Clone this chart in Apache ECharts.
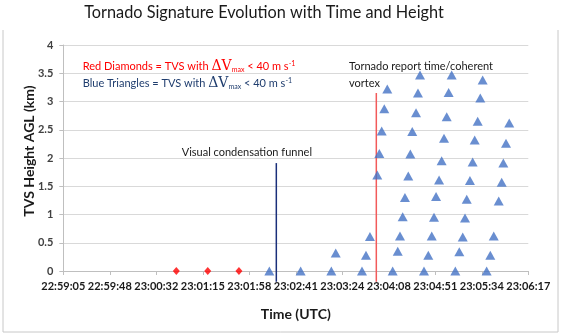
<!DOCTYPE html>
<html><head><meta charset="utf-8">
<script src="https://cdn.jsdelivr.net/npm/echarts@6/dist/echarts.min.js"></script>
<style>html,body{margin:0;padding:0;background:#fff}#c{width:561px;height:335px}</style>
</head><body><div id="c"></div>
<script>
// X values are seconds after the first axis tick (22:59:05.7 UTC); axis step 43.2 s
const tickLabels = ['22:59:05','22:59:48','23:00:32','23:01:15','23:01:58','23:02:41','23:03:24','23:04:08','23:04:51','23:05:34','23:06:17'];
const tickStep = 43.2;
const yTicks = [0, 0.5, 1, 1.5, 2, 2.5, 3, 3.5, 4];

// Red diamonds (TVS, strong) - time (s), height (km)
const redTimes   = [105.0, 134.2, 163.2];
const redHeights = [0, 0, 0];

// Blue triangles (TVS) - time (s), height (km)
const blueTimes = [
  191.4, 220.5,
  249.0, 253.1,
  277.5, 281.2, 284.9, 291.7, 293.6, 295.8, 298.2, 301.0,
  306.0, 310.7, 312.8, 315.3, 317.4, 320.5, 322.4, 324.2, 327.7, 329.5, 331.4,
  335.1, 339.1, 342.3, 344.4, 346.3, 349.1, 351.5, 353.7, 356.2, 358.0, 360.8,
  364.2, 367.9, 371.1, 373.2, 374.8, 377.8, 380.3, 382.2, 385.0, 387.4, 389.6,
  393.3, 396.7, 399.9, 404.5, 407.3, 408.8, 411.3, 414.3
];
const blueHeights = [
  0, 0,
  0, 0.32,
  0, 0.28, 0.61, 1.70, 2.08, 2.48, 2.87, 3.22,
  0, 0.35, 0.62, 0.96, 1.30, 1.68, 2.07, 2.47, 2.80, 3.15, 3.47,
  0, 0.28, 0.62, 0.95, 1.32, 1.61, 1.95, 2.35, 2.73, 3.16, 3.47,
  0, 0.34, 0.60, 0.94, 1.27, 1.60, 1.93, 2.32, 2.65, 3.06, 3.38,
  0, 0.28, 0.62, 1.24, 1.57, 1.91, 2.26, 2.62
];

// Event markers
const funnelTime = 197.9, funnelTop = 1.91;
const reportTime = 290.8, reportTop = 3.15;
const markerBottom = -0.19;

const FONT = 'Lato, "Open Sans", sans-serif';
const chart = echarts.init(document.getElementById('c'));

function legendText(label, color) {
  return {
    text: '{a|' + label + ' = TVS with }{d|ΔV}{s|max}{a| < 40 m s}{p|-1}',
    rich: {
      a: {fontSize: 11, fontFamily: FONT, fill: color, color: color},
      d: {fontSize: 14, fontFamily: '"DejaVu Serif", "Liberation Serif", serif', fill: color, color: color},
      s: {fontSize: 7, fontFamily: FONT, fill: color, color: color, padding: [6, 0, 0, 0]},
      p: {fontSize: 7, fontFamily: FONT, fill: color, color: color, padding: [0, 0, 6, 0]}
    }
  };
}

chart.setOption({
  animation: false,
  backgroundColor: '#fff',
  grid: {left: 63.3, right: 32.7, top: 45, bottom: 64},
  xAxis: {
    type: 'value', min: 0, max: tickStep * (tickLabels.length - 1), interval: tickStep,
    axisLine: {show: true, lineStyle: {color: '#bfbfbf'}},
    axisTick: {show: true, length: 4, lineStyle: {color: '#bfbfbf'}},
    splitLine: {show: false},
    axisLabel: {
      margin: 10, fontFamily: FONT, fontSize: 11, fontWeight: 'bold', color: '#1a1a1a',
      showMinLabel: true, showMaxLabel: true,
      formatter: v => tickLabels[Math.round(v / tickStep)]
    },
    name: 'Time (UTC)', nameLocation: 'middle', nameGap: 36, nameMoveOverlap: false,
    nameTextStyle: {fontFamily: FONT, fontSize: 14, fontWeight: 'bold', color: '#1a1a1a'}
  },
  yAxis: {
    type: 'value', min: yTicks[0], max: yTicks[yTicks.length - 1], interval: 0.5,
    axisLine: {show: true, lineStyle: {color: '#bfbfbf'}},
    axisTick: {show: true, length: 4, lineStyle: {color: '#bfbfbf'}},
    splitLine: {show: true, lineStyle: {color: '#d9d9d9'}},
    axisLabel: {margin: 10, fontFamily: FONT, fontSize: 11, fontWeight: 'bold', color: '#404040'},
    name: 'TVS Height AGL (km)', nameLocation: 'middle', nameGap: 27, nameRotate: 90, nameMoveOverlap: false,
    nameTextStyle: {fontFamily: FONT, fontSize: 14, fontWeight: 'bold', color: '#1a1a1a', padding: [0, 0, 0, 14]}
  },
  graphic: [
    {type: 'text', x: 264, y: 13,
     style: {text: 'Tornado Signature Evolution with Time and Height', fontFamily: FONT, fontSize: 16.3,
             fill: '#1a1a1a', align: 'center', verticalAlign: 'middle'}},
    {type: 'polyline', shape: {points: [[3, 30], [3, 332], [558, 332], [558, 30]]},
     style: {stroke: '#c8c8c8', fill: null, lineWidth: 1}, silent: true},
    {type: 'text', x: 82.7, y: 66.7,
     style: Object.assign(legendText('Red Diamonds', '#ff0000'), {verticalAlign: 'middle', fill: '#ff0000'})},
    {type: 'text', x: 82.7, y: 83.3,
     style: Object.assign(legendText('Blue Triangles', '#1f3d6e'), {verticalAlign: 'middle', fill: '#1f3d6e'})},
    {type: 'text', x: 349, y: 66.7, style: {text: 'Tornado report time/coherent', fontFamily: FONT, fontSize: 11, fill: '#1a1a1a', verticalAlign: 'middle'}},
    {type: 'text', x: 349, y: 83, style: {text: 'vortex', fontFamily: FONT, fontSize: 11, fill: '#1a1a1a', verticalAlign: 'middle'}},
    {type: 'text', x: 181.7, y: 152.7, style: {text: 'Visual condensation funnel', fontFamily: FONT, fontSize: 11, fill: '#1a1a1a', verticalAlign: 'middle'}}
  ],
  series: [
    {type: 'line', data: [[funnelTime, markerBottom], [funnelTime, funnelTop]], clip: false,
     symbol: 'none', lineStyle: {color: '#1a2f7a', width: 1.5}, z: 1},
    {type: 'line', data: [[reportTime, markerBottom], [reportTime, reportTop]], clip: false,
     symbol: 'none', lineStyle: {color: '#f25a5a', width: 1.5}, z: 1},
    {type: 'scatter', data: redTimes.map((t, i) => [t, redHeights[i]]), clip: false,
     symbol: 'diamond', symbolSize: [7, 8], itemStyle: {color: '#ff0000'}, z: 3},
    {type: 'scatter', data: blueTimes.map((t, i) => [t, blueHeights[i]]), clip: false,
     symbol: 'triangle', symbolSize: [10, 9], itemStyle: {color: '#4472c4'}, z: 3}
  ]
});
</script></body></html>
